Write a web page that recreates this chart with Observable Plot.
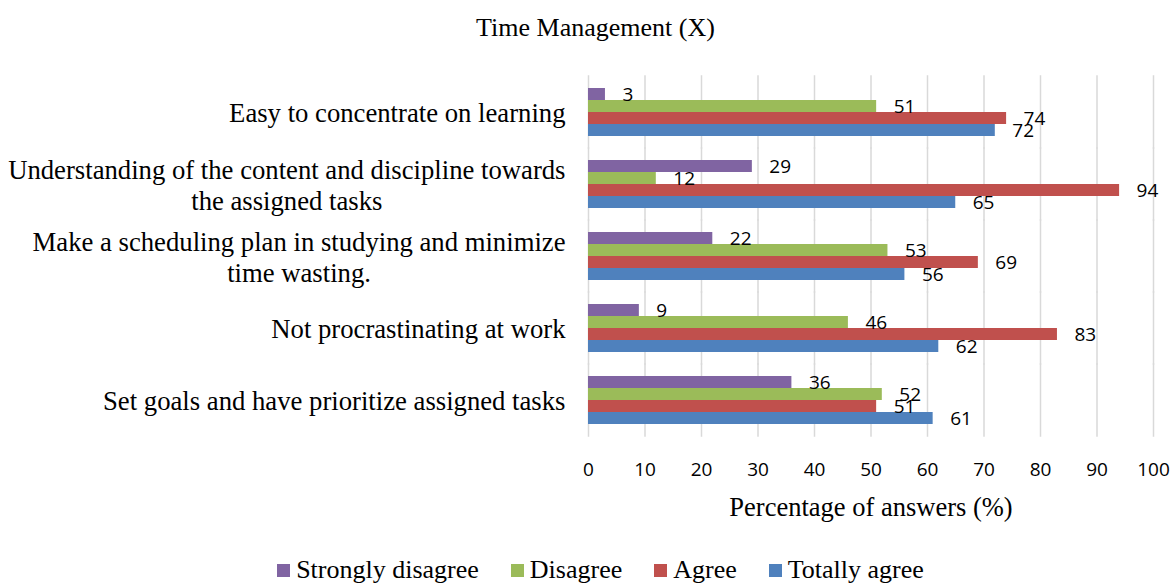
<!DOCTYPE html>
<html>
<head>
<meta charset="utf-8">
<script src="https://cdn.jsdelivr.net/npm/d3@7"></script>
<script src="https://cdn.jsdelivr.net/npm/@observablehq/plot@0.6"></script>
<style>
  body { margin: 0; background: #fff; width: 1173px; height: 588px; overflow: hidden;
         font-family: "Liberation Serif", Tinos, "Times New Roman", Times, "DejaVu Serif", serif; color: #000; }
  #title { height: 60px; line-height: 56px; text-align: center; font-size: 26px; padding-left: 18px; box-sizing: border-box; }
  #chart svg { display: block; }
  #legend { height: 38px; display: flex; justify-content: center; align-items: flex-start; padding-left: 28px; box-sizing: border-box; padding-top: 6px; }
  .item { display: flex; align-items: center; margin-right: 32px; font-size: 26px; line-height: 28px; }
  .item:last-child { margin-right: 0; }
  .sw { width: 13px; height: 13px; margin-right: 6px; display: inline-block; }
</style>
</head>
<body>
<div id="title"></div>
<div id="chart"></div>
<div id="legend"></div>
<script>
const chartTitle = "Time Management (X)";
const xLabel = "Percentage of answers (%)";
const categories = [
  "Easy to concentrate on learning",
  "Understanding of the content and discipline towards the assigned tasks",
  "Make a scheduling plan in studying and minimize time wasting.",
  "Not procrastinating at work",
  "Set goals and have prioritize assigned tasks"
];
const categoryLines = [
  "Easy to concentrate on learning",
  "Understanding of the content and discipline towards\nthe assigned tasks",
  "Make a scheduling plan in studying and minimize\ntime wasting.",
  "Not procrastinating at work",
  "Set goals and have prioritize assigned tasks"
];
const seriesNames = ["Strongly disagree", "Disagree", "Agree", "Totally agree"];
const seriesColors = ["#8064A2", "#9BBB59", "#C0504D", "#4F81BD"];
const stronglyDisagree = [3, 29, 22, 9, 36];
const disagree = [51, 12, 53, 46, 52];
const agree = [74, 94, 69, 83, 51];
const totallyAgree = [72, 65, 56, 62, 61];
const xTicks = [0, 10, 20, 30, 40, 50, 60, 70, 80, 90, 100];

const serif = '"Liberation Serif", Tinos, "Times New Roman", Times, "DejaVu Serif", serif';
const sans = '"Open Sans", "Noto Sans", sans-serif';

const seriesValues = [stronglyDisagree, disagree, agree, totallyAgree];
const data = categories.flatMap((c, i) =>
  seriesNames.map((s, j) => ({ category: c, series: s, value: seriesValues[j][i] }))
);
const lineMap = new Map(categories.map((c, i) => [c, categoryLines[i]]));

document.getElementById("title").textContent = chartTitle;

const plotH = 363, nCat = categories.length, padIn = 0.31, padOut = padIn / 2;
const step = plotH / (nCat - padIn + 2 * padOut);
const gapHalf = step * padIn / 2 + 0.5;

const chart = Plot.plot({
  width: 1173,
  height: 490,
  marginLeft: 588,
  marginRight: 20,
  marginTop: 14,
  marginBottom: 113,
  style: { background: "#fff", color: "#000", overflow: "visible" },
  x: { domain: [0, 100] },
  fy: { domain: categories, paddingInner: padIn, paddingOuter: padOut },
  y: { domain: seriesNames, padding: 0, axis: null },
  color: { domain: seriesNames, range: seriesColors },
  marks: [
    Plot.ruleX(xTicks, { x: d => d, stroke: "#d9d9d9", strokeWidth: 1.5, insetTop: -gapHalf, insetBottom: -gapHalf }),
    Plot.barX(data, { x: "value", y: "series", fy: "category", fill: "series" }),
    Plot.text(data, {
      x: "value", y: "series", fy: "category", text: d => String(d.value),
      textAnchor: "start", dx: 17, fontSize: 19, fontFamily: sans, fill: "#000"
    }),
    Plot.axisFy({
      anchor: "left", tickSize: 0, tickPadding: 23, fontSize: 26.7,
      fontFamily: serif, tickFormat: d => lineMap.get(d),
      lineHeight: 1.16, label: null, fill: "#000"
    }),
    Plot.axisX({
      ticks: xTicks, tickSize: 0, tickPadding: 37, fontSize: 19,
      fontFamily: sans, label: null, fill: "#000"
    }),
    Plot.text([xLabel], {
      text: d => d, frameAnchor: "bottom", dy: 82, fontSize: 26.5,
      fontFamily: serif, lineAnchor: "middle", fill: "#000", facet: "super"
    })
  ]
});
document.getElementById("chart").appendChild(chart);

// center the wrapped lines of multi-line category labels within their right-aligned block
chart.querySelectorAll('g[aria-label="fy-axis tick label"] text').forEach(t => {
  const spans = t.querySelectorAll("tspan");
  if (spans.length > 1) {
    const w = t.getBBox().width;
    t.setAttribute("text-anchor", "middle");
    spans.forEach(s => s.setAttribute("x", -w / 2));
  }
});

const legend = document.getElementById("legend");
seriesNames.forEach((s, i) => {
  const item = document.createElement("div");
  item.className = "item";
  const sw = document.createElement("span");
  sw.className = "sw";
  sw.style.background = seriesColors[i];
  const lab = document.createElement("span");
  lab.textContent = s;
  item.appendChild(sw);
  item.appendChild(lab);
  legend.appendChild(item);
});
</script>
</body>
</html>
